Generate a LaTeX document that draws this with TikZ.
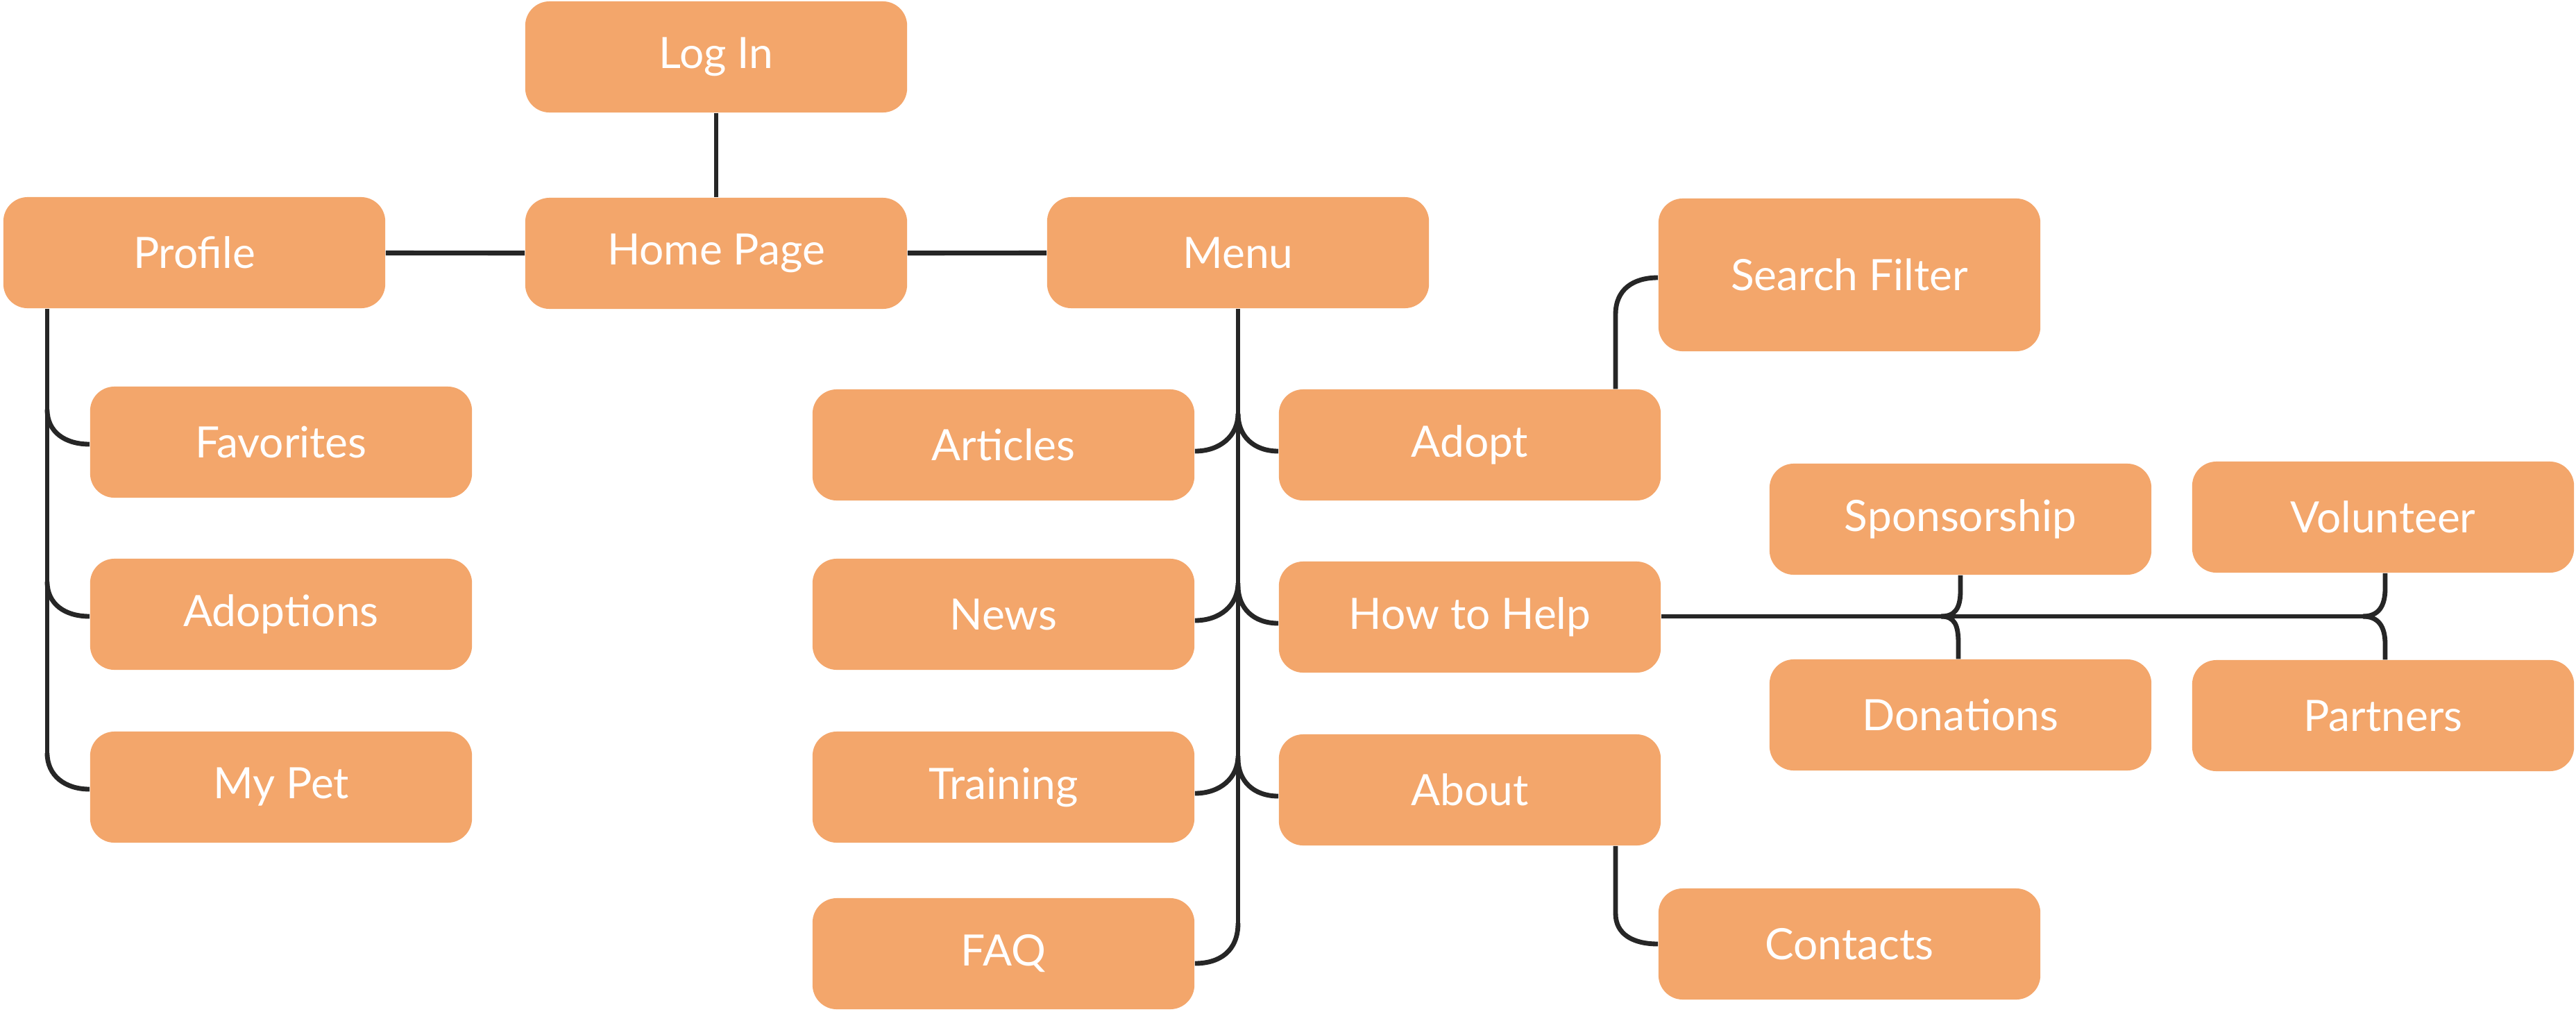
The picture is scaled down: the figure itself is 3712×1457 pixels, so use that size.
\documentclass[tikz,border=0pt]{standalone}
\usepackage{fontspec}
\setmainfont{Lato}
\usetikzlibrary{calc}
\definecolor{boxfill}{HTML}{F3A66B}
\definecolor{linec}{HTML}{262626}
\tikzset{
  box/.style={fill=boxfill, rounded corners=0.35cm, minimum width=5.5cm, minimum height=1.6cm,
    text=white, font=\fontsize{17.7}{21}\selectfont, inner sep=0pt},
  conn/.style={draw=linec, line width=1.95pt},
}
\begin{document}
\begin{tikzpicture}[x=0.01cm, y=-0.01cm]
\useasboundingbox (0,0) rectangle (3712,1457);
% nodes
\node[box] (login) at (1032,82) {Log In};
\node[box] (home) at (1032,365) {Home Page};
\node[box] (profile) at (280,364) {Profile};
\node[box] (menu) at (1784,364) {Menu};
\node[box, minimum height=2.2cm] (searchf) at (2665,396) {Search Filter};
\node[box] (favorites) at (405,637) {Favorites};
\node[box] (adoptions) at (405,885) {Adoptions};
\node[box] (mypet) at (405,1134) {My Pet};
\node[box] (articles) at (1446,641) {Articles};
\node[box] (news) at (1446,885) {News};
\node[box] (training) at (1446,1134) {Training};
\node[box] (faq) at (1446,1374) {FAQ};
\node[box] (adopt) at (2118,641) {Adopt};
\node[box] (howhelp) at (2118,889) {How to Help};
\node[box] (about) at (2118,1138) {About};
\node[box] (contacts) at (2665,1360) {Contacts};
\node[box] (sponsorship) at (2825,748) {Sponsorship};
\node[box] (volunteer) at (3434,745) {Volunteer};
\node[box] (donations) at (2825,1030) {Donations};
\node[box] (partners) at (3434,1031) {Partners};
% helper coordinates
\coordinate (pt) at (68,1085);
\coordinate (mt) at (1784,1330);
\coordinate (at) at (2328,0);
\coordinate (hend) at (3410,888);
\coordinate (sfork) at (2797,888);
\coordinate (vfork) at (3405,888);
% top connectors
\draw[conn] (login) -- (home);
\draw[conn] (profile) -- (home);
\draw[conn] (home) -- (menu);
% profile tree
\draw[conn] (profile.south -| pt) -- (pt);
\foreach \n in {favorites,adoptions}{
  \draw[conn] ($(\n.west -| pt)+(0,-47)$) .. controls +(0,32) and +(-36,0) .. ([yshift=-0.03cm]\n.west);
}
\draw[conn] (pt) .. controls +(0,32) and +(-36,0) .. ([yshift=-0.03cm]mypet.west);
% menu tree
\draw[conn] (menu.south -| mt) -- (mt);
\foreach \n in {articles,news,training}{
  \draw[conn] ($(\n.east -| mt)+(0,-45)$) .. controls +(0,32) and +(36,0) .. ([yshift=-0.09cm]\n.east);
}
\foreach \n in {adopt,howhelp,about}{
  \draw[conn] ($(\n.west -| mt)+(0,-45)$) .. controls +(0,32) and +(-36,0) .. ([yshift=-0.09cm]\n.west);
}
\draw[conn] (mt) .. controls +(0,40) and +(36,0) .. ([yshift=-0.14cm]faq.east);
% adopt -> search filter
\draw[conn] (adopt.north -| at) -- ($(searchf.west -| at)+(0,57)$) .. controls +(0,-36) and +(-36,0) .. ([yshift=-0.04cm]searchf.west);
% about -> contacts
\draw[conn] (about.south -| at) -- ($(contacts.west -| at)+(0,-44)$) .. controls +(0,30) and +(-36,0) .. (contacts.west);
% how to help
\draw[conn] (howhelp.east |- hend) -- (hend);
\draw[conn] (sponsorship.south) -- +(0,22) .. controls +(0,26) and +(20,0) .. (sfork);
\draw[conn] (sfork) .. controls +(20,0) and +(0,-26) .. ($(donations.north)+(-3,-22)$) -- ([xshift=-0.03cm]donations.north);
\draw[conn] ([xshift=0.03cm]volunteer.south) -- +(0,22) .. controls +(0,26) and +(22,0) .. (vfork);
\draw[conn] (vfork) .. controls +(22,0) and +(0,-26) .. ($(partners.north)+(3,-22)$) -- ([xshift=0.03cm]partners.north);
\end{tikzpicture}
\end{document}
